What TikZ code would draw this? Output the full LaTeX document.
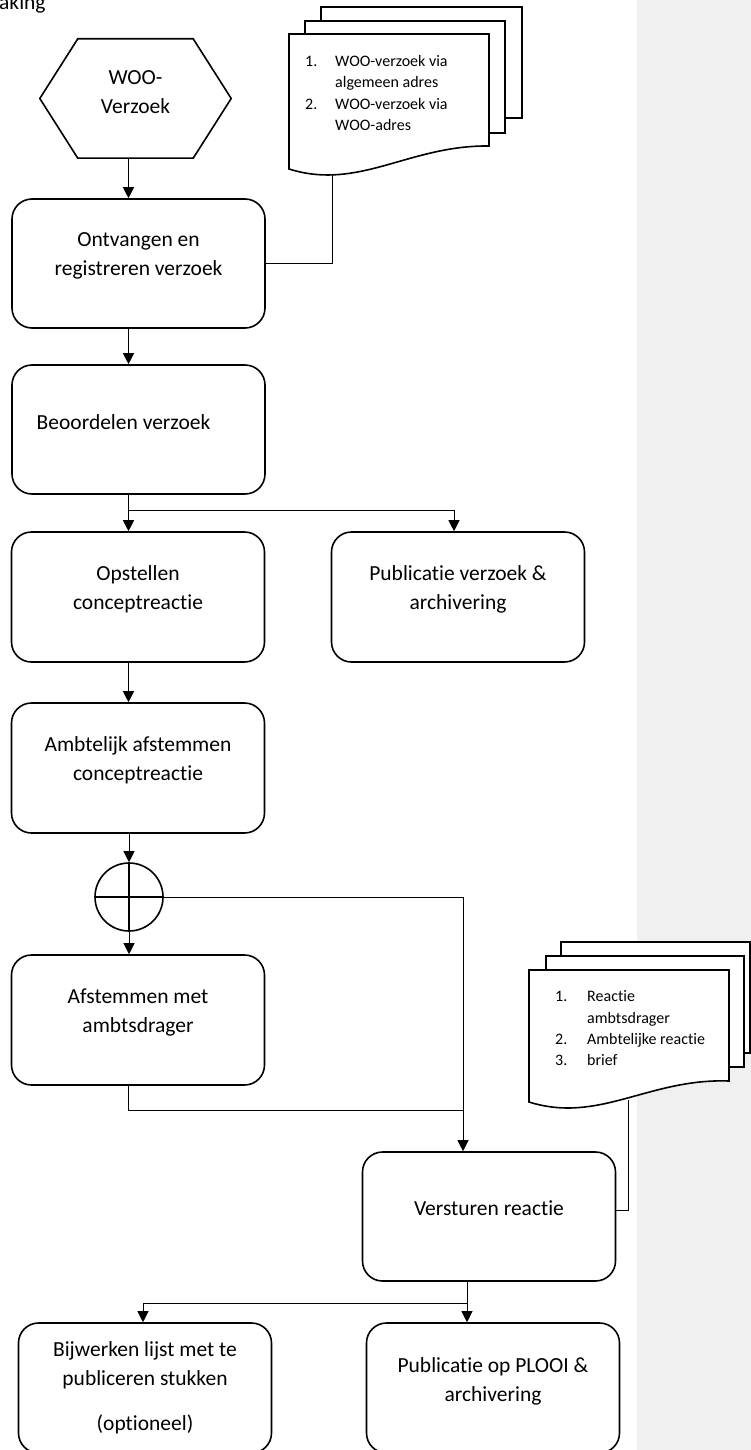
\documentclass[tikz,border=0pt]{standalone}
\usepackage{fontspec}
\setmainfont{Carlito}[Ligatures=NoCommon]
\usetikzlibrary{arrows.meta}
\definecolor{kantlijn}{RGB}{240,240,240}

\begin{document}
\begin{tikzpicture}[x=1pt, y=-1pt,
    stap/.style={draw, line width=1.6pt, rounded corners=20pt, minimum width=253pt, minimum height=129pt, inner sep=0pt},
    tekst/.style={align=center, font=\fontsize{21.5}{29}\selectfont},
    lijn/.style={line width=0.9pt},
    pijl/.style={lijn, -{Triangle[length=11pt, width=11pt]}},
    blad/.style={draw, fill=white, line width=1.6pt},
    lijst/.style={font=\fontsize{16}{21.3}\selectfont, inner sep=0pt, anchor=base west}]
    \useasboundingbox (0,0) rectangle (751,1450);
    % Kantlijn rechts
    \fill[kantlijn] (637,0) rectangle (751,1450);
    \node[tekst, anchor=base west, inner sep=0pt] (kop) at (-1,10) {aking};

    % Start: WOO-verzoek
    \node[minimum width=191pt, minimum height=119pt, inner sep=0pt,
        label={[tekst, yshift=6.5pt]center:WOO-\\Verzoek}] (woo) at (135.5,98.5) {};
    \draw[line width=1.6pt] (woo.west) -- ([xshift=38pt]woo.north west) -- ([xshift=-38pt]woo.north east)
        -- (woo.east) -- ([xshift=-38pt]woo.south east) -- ([xshift=38pt]woo.south west) -- cycle;

    % Documenten bij ontvangst
    \draw[blad] (321,7) rectangle (522,118);
    \draw[blad] (305,21) rectangle (505,133);
    \draw[blad] (289,34) -- (489,34) -- (489,146) .. controls (409,145) and (359,191) .. (289,169) -- cycle;
    \node[lijst] (lijst1) at (305,66.7) {\begin{tabular}[t]{@{}p{30pt}@{}l@{}}
        1. & WOO-verzoek via\\ & algemeen adres\\ 2. & WOO-verzoek via\\ & WOO-adres\end{tabular}};
    \coordinate (doc1) at (332,174);

    % Processtappen
    \node[stap, label={[tekst, yshift=7.5pt]center:Ontvangen en\\registreren verzoek}] (ontvangen) at (138.5,263.5) {};
    \node[stap, label={[tekst, yshift=7pt, xshift=-15pt]center:Beoordelen verzoek}] (beoordelen) at (138.5,429.5) {};
    \node[stap, minimum height=130pt, label={[tekst, yshift=8pt]center:Opstellen\\conceptreactie}] (opstellen) at (138,597) {};
    \node[stap, minimum height=130pt, label={[tekst, yshift=8pt]center:Publicatie verzoek \&\\archivering}] (pubverzoek) at (458,597) {};
    \node[stap, minimum height=130pt, label={[tekst, yshift=7.5pt]center:Ambtelijk afstemmen\\conceptreactie}] (ambtelijk) at (138,768) {};
    \node[draw, circle, line width=1.6pt, minimum size=68pt, inner sep=0pt] (kruis) at (129,897) {};
    \draw[line width=1.6pt] (kruis.north) -- (kruis.south) (kruis.west) -- (kruis.east);
    \node[stap, minimum height=130pt, label={[tekst, yshift=7.5pt]center:Afstemmen met\\ambtsdrager}] (afstemmen) at (138,1020) {};
    \node[stap, label={[tekst, yshift=8.5pt]center:Versturen reactie}] (versturen) at (489,1216.5) {};
    \node[stap, minimum height=130pt, label={[tekst]center:Bijwerken lijst met te\\publiceren stukken\\[16pt](optioneel)}] (bijwerken) at (145,1388) {};
    \node[stap, minimum height=130pt, label={[tekst, yshift=6.5pt]center:Publicatie op PLOOI \&\\archivering}] (pubplooi) at (493,1388) {};

    % Documenten bij reactie
    \draw[blad] (561,942) rectangle (750,1053);
    \draw[blad] (546,956) rectangle (744,1067);
    \draw[blad] (529,970) -- (729,970) -- (729,1081) .. controls (649,1078) and (599,1124) .. (529,1102) -- cycle;
    \node[lijst] (lijst2) at (555,1001.7) {\begin{tabular}[t]{@{}p{32pt}@{}l@{}}
        1. & Reactie\\ & ambtsdrager\\ 2. & Ambtelijke reactie\\ 3. & brief\end{tabular}};
    \coordinate (doc2) at (628,1100);

    % Verbindingen
    \coordinate (as) at (128.5,0);
    \coordinate (splits1) at (128.5,510);
    \coordinate (samen) at (463,1110);
    \coordinate (splits2) at (467,1303);
    \draw[pijl] (woo.south -| as) -- (ontvangen.north -| as);
    \draw[lijn] (doc1) |- (ontvangen.east);
    \draw[pijl] (ontvangen.south -| as) -- (beoordelen.north -| as);
    \draw[pijl] (beoordelen.south -| as) -- (opstellen.north -| as);
    \draw[pijl] (splits1) -| ([xshift=-4pt]pubverzoek.north);
    \draw[pijl] (opstellen.south -| as) -- (ambtelijk.north -| as);
    \draw[pijl] (ambtelijk.south -| kruis) -- (kruis.north);
    \draw[pijl] (kruis.south) -- (afstemmen.north -| kruis);
    \draw[pijl] (kruis.east) -| ([xshift=-26pt]versturen.north);
    \draw[lijn] (afstemmen.south -| as) |- (samen);
    \draw[lijn] (doc2) |- ([yshift=6.5pt]versturen.east);
    \draw[pijl] ([xshift=-22pt]versturen.south) -- ([xshift=-26pt]pubplooi.north);
    \draw[pijl] (splits2) -| ([xshift=-2pt]bijwerken.north);
\end{tikzpicture}
\end{document}
